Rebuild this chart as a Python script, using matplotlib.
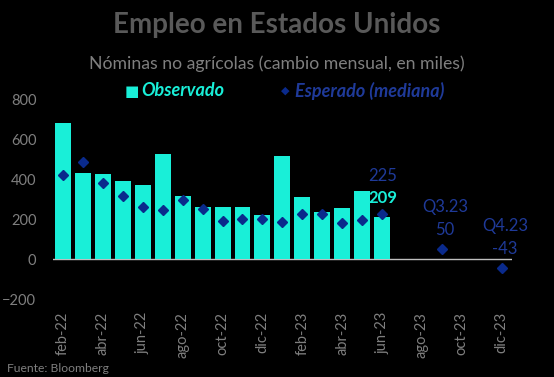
import numpy as np
import matplotlib.pyplot as plt

# Meses del eje (feb-22 .. dic-23)
meses = ["feb-22", "mar-22", "abr-22", "may-22", "jun-22", "jul-22", "ago-22",
         "sep-22", "oct-22", "nov-22", "dic-22", "ene-23", "feb-23", "mar-23",
         "abr-23", "may-23", "jun-23", "jul-23", "ago-23", "sep-23", "oct-23",
         "nov-23", "dic-23"]

# Nominas no agricolas observadas (miles)
observado = [680, 431, 427, 391, 373, 528, 315, 263, 260, 263, 221, 517,
             310, 235, 255, 340, 209]

# Esperado (mediana); meses sin dato como NaN
esperado = [421, 488, 380, 315, 263, 248, 297, 253, 192, 200, 203, 185,
            225, 228, 182, 198, 225, np.nan, np.nan, 50, np.nan, np.nan, -43]

CYAN = "#19EFD8"
NAVY = "#0A2A8C"
NAVY_TXT = "#1F3A99"
GREY = "#7F7F7F"

plt.rcParams['font.family'] = ['Lato', 'DejaVu Sans']

fig = plt.figure(figsize=(5.54, 3.77), dpi=100, facecolor="black")
ax = fig.add_axes([0.0957, 0.206, 0.828, 0.531], facecolor="black")

x = np.arange(len(meses))
x_obs = x[:len(observado)]
ax.bar(x_obs, observado, width=0.8, color=CYAN, zorder=2)
ax.plot(x, esperado, linestyle="none", marker="D", markersize=5.5,
        color=NAVY, zorder=3)
ax.axhline(0, color="#BFBFBF", linewidth=1, zorder=1)

ax.set_xlim(-0.5, len(meses) - 0.5)
ax.set_ylim(-200, 800)
ax.set_yticks(np.arange(-200, 801, 200))
ax.set_xticks(x[::2])
ax.set_xticklabels(meses[::2], rotation=90)
ax.tick_params(axis="both", length=0, colors=GREY, labelsize=10.5)
ax.tick_params(axis="x", pad=9)
ax.tick_params(axis="y", pad=12)
for s in ax.spines.values():
    s.set_visible(False)

# etiquetas de junio-23
i_jun = len(observado) - 1
ax.annotate(str(observado[i_jun]), (x[i_jun], esperado[i_jun]),
            xytext=(1, 16), textcoords="offset pixels", ha="center",
            va="center", color=CYAN, fontsize=12, fontweight="bold")
ax.annotate(str(int(esperado[i_jun])), (x[i_jun], esperado[i_jun]),
            xytext=(1, 38), textcoords="offset pixels", ha="center",
            va="center", color=NAVY_TXT, fontsize=12)

# proyecciones trimestrales
for lab, mes in [("Q3.23", "sep-23"), ("Q4.23", "dic-23")]:
    i = meses.index(mes)
    v = esperado[i]
    ax.annotate(str(int(v)), (x[i], v), xytext=(3, 19),
                textcoords="offset pixels", ha="center", va="center",
                color=NAVY_TXT, fontsize=12)
    ax.annotate(lab, (x[i], v), xytext=(3, 42),
                textcoords="offset pixels", ha="center", va="center",
                color=NAVY_TXT, fontsize=12)

fig.text(0.5, 1 - 25 / 377, "Empleo en Estados Unidos", ha="center",
         va="center", color="#595959", fontsize=20, fontweight="bold")
fig.text(0.5, 1 - 64 / 377, "Nóminas no agrícolas (cambio mensual, en miles)",
         ha="center", va="center", color=GREY, fontsize=12.7)

# leyenda manual
fig.text(125 / 554, 1 - 91 / 377, "■", ha="left", va="center",
         color=CYAN, fontsize=11, family=['DejaVu Sans'])
fig.text(141 / 554, 1 - 91 / 377, "Observado", ha="left", va="center",
         color=CYAN, fontsize=13, fontweight="bold", fontstyle="italic")
fig.text(281 / 554, 1 - 91 / 377, "◆", ha="left", va="center",
         color=NAVY, fontsize=8, family=['DejaVu Sans'])
fig.text(295 / 554, 1 - 91 / 377, "Esperado (mediana)", ha="left",
         va="center", color=NAVY_TXT, fontsize=13, fontweight="bold",
         fontstyle="italic")

fig.text(7 / 554, 1 - 368 / 377, "Fuente: Bloomberg", ha="left",
         va="center", color=GREY, fontsize=8.7)

fig.savefig("out.png", dpi=100, facecolor="black")
